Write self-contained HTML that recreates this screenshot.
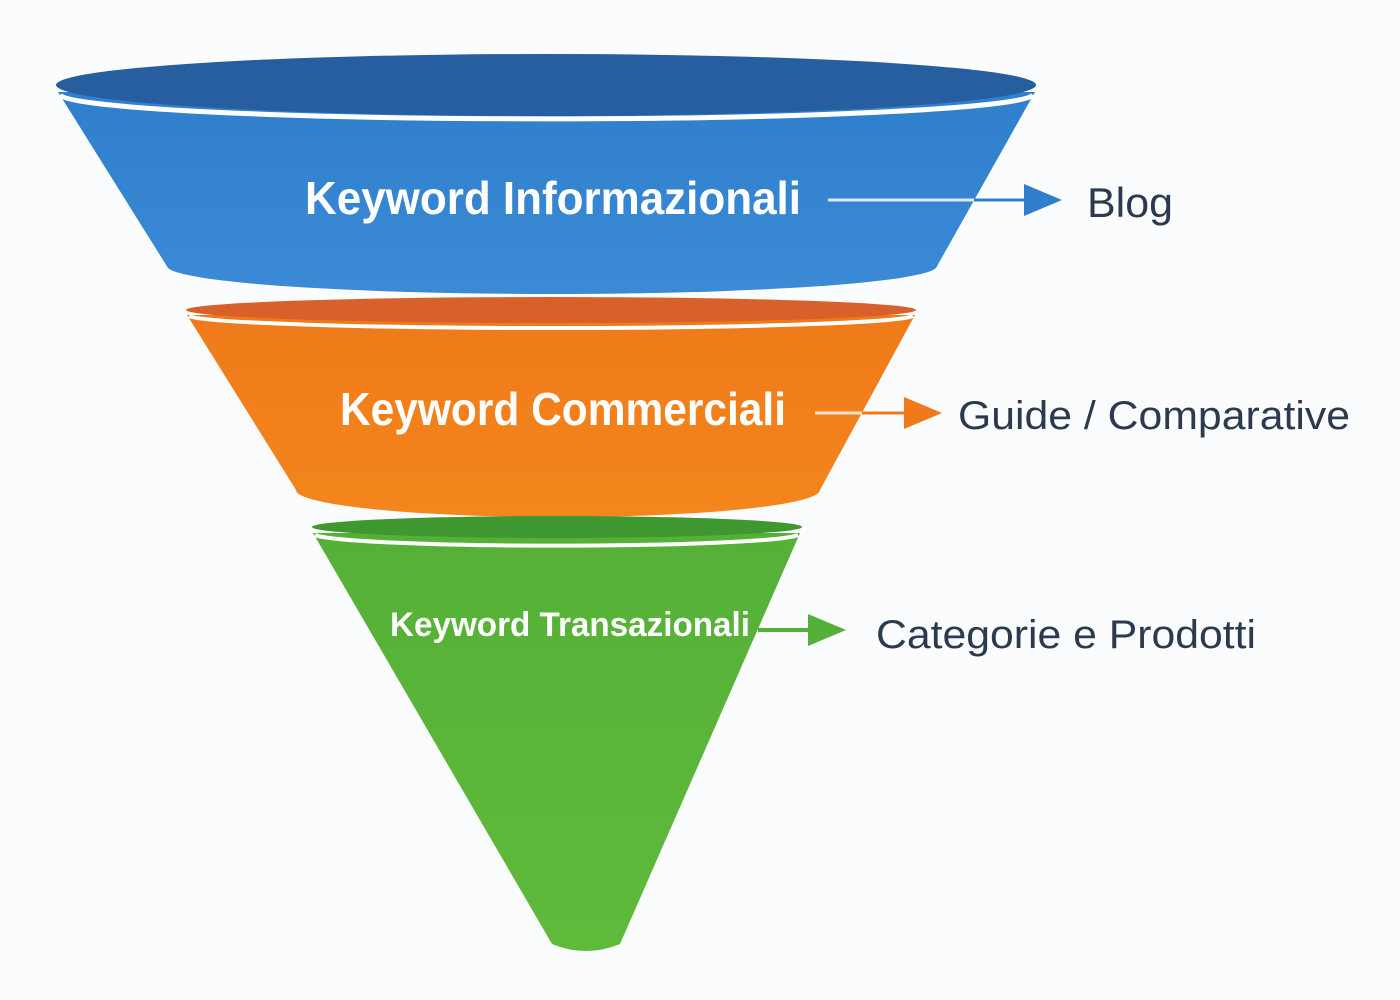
<!DOCTYPE html>
<html><head><meta charset="utf-8"><style>
html,body{margin:0;padding:0;background:#fbfcfd;width:1400px;height:1000px;overflow:hidden}
svg{display:block}
text{font-family:"Liberation Sans",sans-serif}
</style></head><body>
<svg width="1400" height="1000" viewBox="0 0 1400 1000" xmlns="http://www.w3.org/2000/svg">
<defs>
<linearGradient id="bl" x1="0" y1="0" x2="0" y2="1"><stop offset="0" stop-color="#2f7fcc"/><stop offset="1" stop-color="#3a8ad6"/></linearGradient>
<linearGradient id="or" x1="0" y1="0" x2="0" y2="1"><stop offset="0" stop-color="#f07a1a"/><stop offset="1" stop-color="#f3861c"/></linearGradient>
<linearGradient id="gr" x1="0" y1="0" x2="0" y2="1"><stop offset="0" stop-color="#55b038"/><stop offset="1" stop-color="#5fba3a"/></linearGradient>
</defs>
<path d="M58,92 L168,268 A385,28 0 0 0 936,268 L1035,92 Z" fill="url(#bl)"/>
<path d="M60,95 A487,25 0 0 0 1033,95" fill="none" stroke="#fff" stroke-width="5"/>
<ellipse cx="546" cy="85" rx="490" ry="31" fill="#275e9f"/>
<path d="M187,315 L296,490 A262,27 0 0 0 820,490 L915,315 Z" fill="url(#or)"/>
<path d="M189,316 A363,13 0 0 0 913,316" fill="none" stroke="#fff" stroke-width="4"/>
<ellipse cx="551" cy="310" rx="365" ry="13" fill="#d8602a"/>
<path d="M313,533 L552,944 Q586,958 620,944 L800,533 Z" fill="url(#gr)"/>
<path d="M315,535 A243,12 0 0 0 798,535" fill="none" stroke="#fff" stroke-width="4"/>
<ellipse cx="557" cy="527" rx="245" ry="11" fill="#3f982f"/>
<g font-weight="bold" fill="#fff">
<text x="305" y="214" font-size="46" textLength="496" lengthAdjust="spacingAndGlyphs">Keyword Informazionali</text>
<text x="340" y="425" font-size="46" textLength="446" lengthAdjust="spacingAndGlyphs">Keyword Commerciali</text>
<text x="390" y="636" font-size="34" textLength="360" lengthAdjust="spacingAndGlyphs">Keyword Transazionali</text>
</g>
<line x1="828" y1="200" x2="975" y2="200" stroke="#dce9f6" stroke-width="3"/>
<line x1="974" y1="200" x2="1028" y2="200" stroke="#2f7fcc" stroke-width="3"/>
<polygon points="1024,184 1062,200 1024,216" fill="#2f7fcc"/>
<line x1="815" y1="413" x2="863" y2="413" stroke="#fbe3cf" stroke-width="3"/>
<line x1="862" y1="413" x2="908" y2="413" stroke="#f07a1a" stroke-width="3"/>
<polygon points="904,397 942,413 904,429" fill="#f07a1a"/>
<line x1="758" y1="630" x2="812" y2="630" stroke="#55b038" stroke-width="4"/>
<polygon points="808,614 846,630 808,646" fill="#55b038"/>
<g fill="#2b3a4f">
<text x="1087" y="217" font-size="42" textLength="86" lengthAdjust="spacingAndGlyphs">Blog</text>
<text x="958" y="429" font-size="40" textLength="392" lengthAdjust="spacingAndGlyphs">Guide / Comparative</text>
<text x="876" y="648" font-size="40" textLength="380" lengthAdjust="spacingAndGlyphs">Categorie e Prodotti</text>
</g>
</svg>
</body></html>
